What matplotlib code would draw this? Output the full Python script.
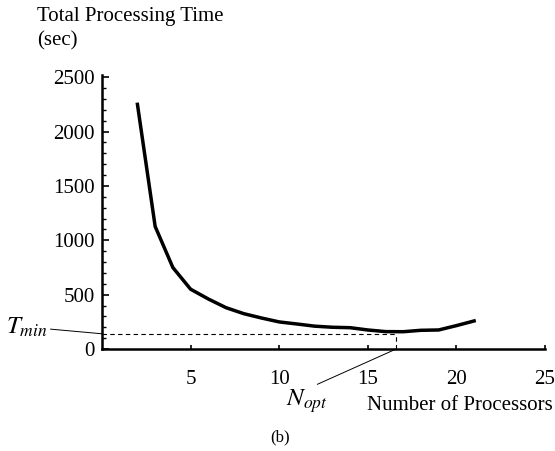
import numpy as np
import matplotlib
matplotlib.use("Agg")
import matplotlib.pyplot as plt
from matplotlib.ticker import MultipleLocator

plt.rcParams['font.family'] = ['Liberation Serif', 'DejaVu Serif']
plt.rcParams['mathtext.fontset'] = 'stix'

# data
processors = [2, 3, 4, 5, 6, 7, 8, 9, 10, 11, 12, 13, 14, 15, 16, 17, 18, 19, 20, 21]
total_time = [2250, 1127, 749, 550, 460, 380, 325, 285, 249, 230, 210, 200, 196, 175,
              160, 159, 172, 175, 215, 258]
t_min = 140
n_opt = 16.6
x_ticks = [5, 10, 15, 20, 25]
y_ticks = [0, 500, 1000, 1500, 2000, 2500]

W, H = 555, 451
fig = plt.figure(figsize=(W / 100, H / 100), dpi=100)
ax = fig.add_axes([102 / W, 1 - 349 / H, 443 / W, 274 / H])

ax.plot(processors, total_time, color='black', lw=2.5, solid_joinstyle='miter')
ax.plot([0, n_opt], [t_min, t_min], color='black', lw=0.8, ls=(0, (4, 3)))
ax.plot([n_opt, n_opt], [0, t_min], color='black', lw=0.8, ls=(0, (4, 3)))

ax.set_xlim(0, 25)
ax.set_ylim(0, 2520)
for s in ['top', 'right']:
    ax.spines[s].set_visible(False)
for s in ['left', 'bottom']:
    ax.spines[s].set_linewidth(1.8)

ax.set_xticks(x_ticks)
ax.set_yticks(y_ticks)
ax.yaxis.set_minor_locator(MultipleLocator(100))
ax.tick_params(axis='y', which='major', direction='in', length=5, width=1.2, pad=5, labelsize=15)
ax.tick_params(axis='y', which='minor', direction='in', length=3, width=1.0)
ax.tick_params(axis='x', which='major', direction='in', length=3, width=1.2, pad=15, labelsize=15)

fig.text(37 / W, 1 - 16 / H, 'Total Processing Time', fontsize=15, va='center', ha='left')
fig.text(37 / W, 1 - 41 / H, '(sec)', fontsize=15, va='center', ha='left')
fig.text(553 / W, 1 - 405 / H, 'Number of Processors', fontsize=15, va='center', ha='right')
fig.text(280 / W, 1 - 437 / H, '(b)', fontsize=12, va='center', ha='center')

ax.annotate('$T_{min}$', xy=(0, t_min), xycoords='data',
            xytext=(6 / W, 1 - 327 / H), textcoords='figure fraction',
            fontsize=18, va='center', ha='left',
            arrowprops=dict(arrowstyle='-', lw=0.7, color='black', shrinkA=0, shrinkB=0))
ax.annotate('$N_{opt}$', xy=(n_opt, 0), xycoords='data',
            xytext=(286 / W, 1 - 401 / H), textcoords='figure fraction',
            fontsize=18, va='center', ha='left',
            arrowprops=dict(arrowstyle='-', lw=0.7, color='black', shrinkA=0, shrinkB=0,
                            relpos=(0.6, 1.0)))

fig.savefig('out.png', dpi=100)
